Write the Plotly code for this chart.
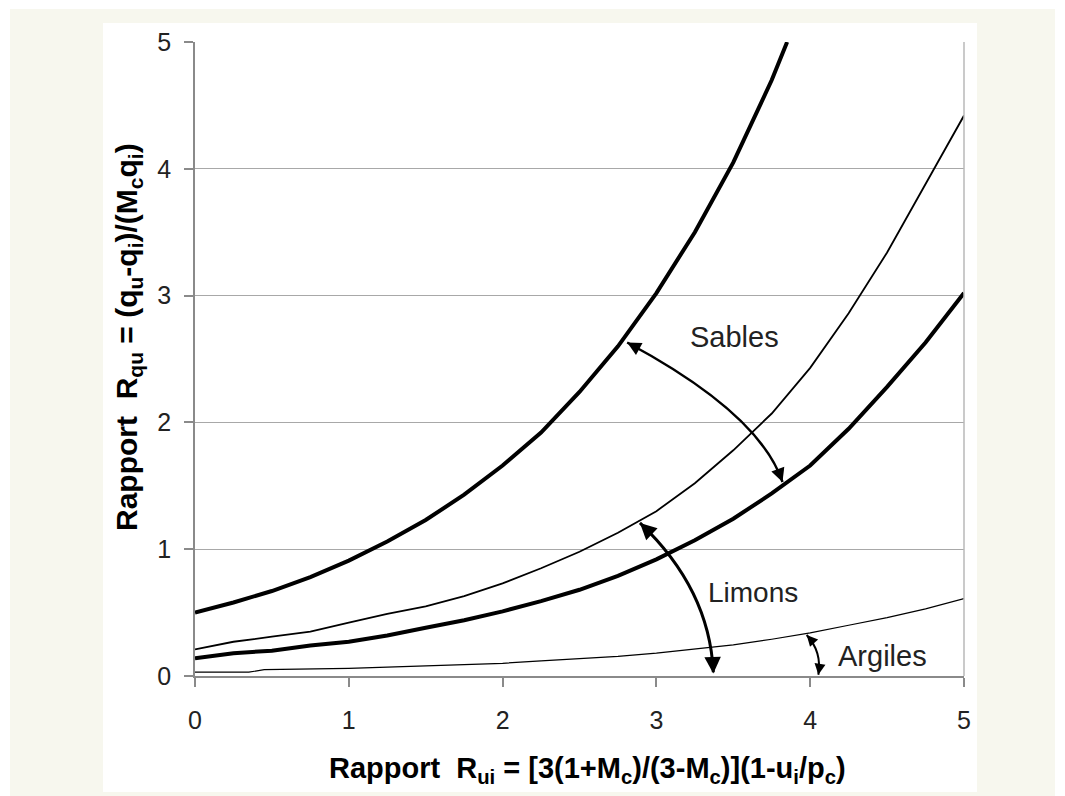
import plotly.graph_objects as go

# ---- data ----
x_sables_haut = [0, 0.25, 0.5, 0.75, 1.0, 1.25, 1.5, 1.75, 2.0, 2.25, 2.5, 2.75, 3.0, 3.25, 3.5, 3.75, 3.85]
y_sables_haut = [0.50, 0.58, 0.67, 0.78, 0.91, 1.06, 1.23, 1.43, 1.66, 1.92, 2.24, 2.60, 3.02, 3.50, 4.05, 4.70, 5.0]

x_limons = [0, 0.25, 0.5, 0.75, 1.0, 1.25, 1.5, 1.75, 2.0, 2.25, 2.5, 2.75, 3.0, 3.25, 3.5, 3.75, 4.0, 4.25, 4.5, 4.75, 5.0]
y_limons = [0.21, 0.27, 0.31, 0.35, 0.42, 0.49, 0.55, 0.63, 0.73, 0.85, 0.98, 1.13, 1.30, 1.52, 1.78, 2.07, 2.43, 2.86, 3.34, 3.88, 4.42]

x_sables_bas = [0, 0.25, 0.5, 0.75, 1.0, 1.25, 1.5, 1.75, 2.0, 2.25, 2.5, 2.75, 3.0, 3.25, 3.5, 3.75, 4.0, 4.25, 4.5, 4.75, 5.0]
y_sables_bas = [0.14, 0.18, 0.20, 0.24, 0.27, 0.32, 0.38, 0.44, 0.51, 0.59, 0.68, 0.79, 0.92, 1.07, 1.24, 1.44, 1.66, 1.95, 2.28, 2.63, 3.02]

x_argiles = [0, 0.35, 0.45, 0.75, 1.0, 1.25, 1.5, 1.75, 2.0, 2.25, 2.5, 2.75, 3.0, 3.25, 3.5, 3.75, 4.0, 4.25, 4.5, 4.75, 5.0]
y_argiles = [0.03, 0.03, 0.05, 0.055, 0.06, 0.07, 0.08, 0.09, 0.10, 0.12, 0.135, 0.155, 0.18, 0.21, 0.245, 0.29, 0.34, 0.40, 0.46, 0.53, 0.61]

tick_vals = [0, 1, 2, 3, 4, 5]
tick_text = ["0", "1", "2", "3", "4", "5"]

FONT = "Arial, 'Liberation Sans', sans-serif"
TXT = "#222222"

fig = go.Figure()
fig.add_trace(go.Scatter(x=x_argiles, y=y_argiles, mode="lines",
                         line=dict(color="black", width=1.2), hoverinfo="skip"))
fig.add_trace(go.Scatter(x=x_limons, y=y_limons, mode="lines",
                         line=dict(color="black", width=1.8), hoverinfo="skip"))
fig.add_trace(go.Scatter(x=x_sables_bas, y=y_sables_bas, mode="lines",
                         line=dict(color="black", width=4), hoverinfo="skip"))
fig.add_trace(go.Scatter(x=x_sables_haut, y=y_sables_haut, mode="lines",
                         line=dict(color="black", width=4), hoverinfo="skip"))

shapes = [
    # cream frame and white panel
    dict(type="rect", xref="paper", yref="paper", x0=-0.2406, x1=1.1183, y0=-0.1893, y1=1.0521,
         fillcolor="#f7f7ee", line=dict(width=0), layer="below"),
    dict(type="rect", xref="paper", yref="paper", x0=-0.1196, x1=1.0169, y0=-0.1830, y1=1.0300,
         fillcolor="white", line=dict(width=0), layer="below"),
    # right border of plot area
    dict(type="line", xref="paper", yref="paper", x0=1, x1=1, y0=0, y1=1,
         line=dict(color="#b8b8b8", width=1.5)),
    # curved arrows
    dict(type="path", xref="x", yref="y", path="M 2.81,2.63 Q 3.67,2.07 3.82,1.53",
         line=dict(color="black", width=2.5)),
    dict(type="path", xref="x", yref="y", path="M 2.893,1.207 Q 3.345,0.686 3.37,0.03",
         line=dict(color="black", width=3)),
    dict(type="path", xref="x", yref="y", path="M 3.977,0.323 Q 4.077,0.192 4.053,0.01",
         line=dict(color="black", width=2)),
]

def head(x, y, ax, ay, w):
    return dict(x=x, y=y, xref="x", yref="y", ax=ax, ay=ay, axref="pixel", ayref="pixel",
                text="", showarrow=True, arrowhead=2, arrowsize=1.1, arrowwidth=w,
                arrowcolor="black", standoff=0, startstandoff=0)

annotations = [
    head(2.81, 2.63, 10.5, 5.7, 2.5),
    head(3.82, 1.53, -4.1, -11.3, 2.5),
    head(2.893, 1.207, 8.7, 8.3, 3),
    head(3.37, 0.02, -0.5, -12, 3),
    head(3.977, 0.323, 5.4, 5.9, 2),
    head(4.053, 0.01, 1.2, -7.9, 2),
    dict(x=3.51, y=2.67, xref="x", yref="y", text="Sables", showarrow=False,
         font=dict(family=FONT, size=29, color=TXT)),
    dict(x=3.628, y=0.662, xref="x", yref="y", text="Limons", showarrow=False,
         font=dict(family=FONT, size=28, color=TXT)),
    dict(x=4.467, y=0.158, xref="x", yref="y", text="Argiles", showarrow=False,
         font=dict(family=FONT, size=29, color=TXT)),
    dict(x=0.5104, y=-0.1483, xref="paper", yref="paper", showarrow=False,
         text="<b>Rapport&nbsp; R<sub>ui</sub> = [3(1+M<sub>c</sub>)/(3-M<sub>c</sub>)](1-u<sub>i</sub>/p<sub>c</sub>)</b>",
         font=dict(family=FONT, size=29, color="black"), xanchor="center", yanchor="middle"),
    dict(x=-0.0871, y=0.5347, xref="paper", yref="paper", showarrow=False, textangle=-90,
         text="<b>Rapport&nbsp; R<sub>qu</sub> = (q<sub>u</sub>-q<sub>i</sub>)/(M<sub>c</sub>q<sub>i</sub>)</b>",
         font=dict(family=FONT, size=30, color="black"), xanchor="center", yanchor="middle"),
]

# the page body has an 8px margin, so the figure is 8px smaller than the window
fig.update_layout(
    width=1057, height=788,
    margin=dict(l=187, r=101, t=34, b=120),
    paper_bgcolor="white", plot_bgcolor="rgba(0,0,0,0)",
    showlegend=False,
    shapes=shapes, annotations=annotations,
    font=dict(family=FONT, color=TXT),
)
fig.update_xaxes(range=[0, 5], tickvals=tick_vals, ticktext=tick_text,
                 showgrid=False, zeroline=False, showline=True, linecolor="#8a8a8a", linewidth=1.5,
                 ticks="outside", ticklen=9, tickcolor="#8a8a8a", tickwidth=1.5,
                 tickfont=dict(family=FONT, size=25, color=TXT), ticklabelstandoff=12)
fig.update_yaxes(range=[0, 5], tickvals=tick_vals, ticktext=tick_text,
                 showgrid=True, gridcolor="#a8a8a8", gridwidth=1, zeroline=False,
                 showline=True, linecolor="#8a8a8a", linewidth=1.5,
                 ticks="outside", ticklen=9, tickcolor="#8a8a8a", tickwidth=1.5,
                 tickfont=dict(family=FONT, size=25, color=TXT), ticklabelstandoff=8)

fig.write_html("out.html")
